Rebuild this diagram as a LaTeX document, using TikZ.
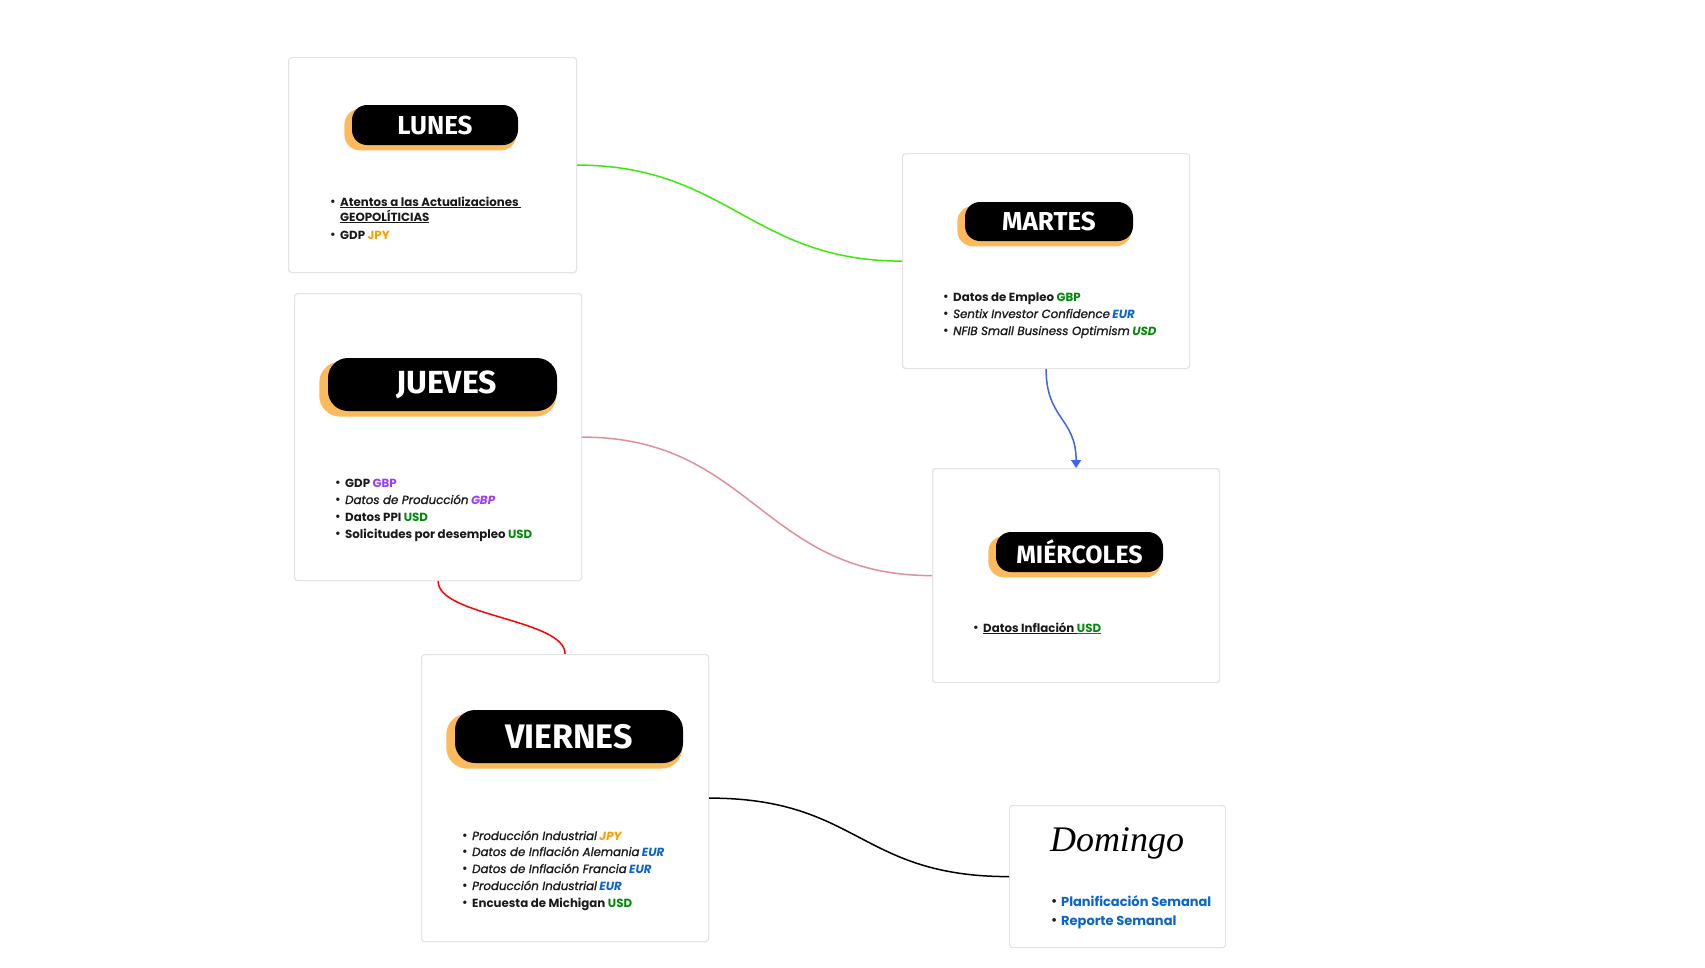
\documentclass[tikz,border=0pt]{standalone}
\usepackage{fontspec}
\setmainfont{Poppins}
\newfontfamily\semiit{Poppins}[ItalicFeatures={FakeBold=1.3}]
\newfontfamily\headfont{Fira Sans}
\newfontfamily\domfont{Liberation Serif}
\usetikzlibrary{arrows.meta,shadows}
\definecolor{cgreen}{HTML}{008A0A}
\definecolor{cblue}{HTML}{0B63CE}
\definecolor{corange}{HTML}{FF9D00}
\definecolor{cpurple}{HTML}{9B3BFF}
\definecolor{pillorange}{HTML}{FDBA5C}
\definecolor{boxgray}{HTML}{E3E3E3}
\definecolor{linkgreen}{HTML}{3BEA0A}
\definecolor{linkpink}{HTML}{E0909A}
\definecolor{linkblue}{HTML}{3D63F2}
\definecolor{txt}{HTML}{1A1A1A}
\newcommand\bul{\makebox[10pt][l]{\raisebox{0.3pt}{\scalebox{0.95}{•}}}}
\newcommand\nobul{\hspace*{10pt}}
\newcommand\ita[1]{{\semiit\mdseries\itshape #1}}
\begin{document}
\begin{tikzpicture}[x=1pt,y=-1pt,
  card/.style={draw=boxgray, line width=1.2pt, rounded corners=3pt, fill=white, anchor=north west, inner sep=0pt},
  pill/.style={fill=black, rounded corners=15pt, text=white, inner sep=0pt,
    general shadow={fill=pillorange, shadow xshift=-4.5pt, shadow yshift=-4.5pt, shadow scale=1.035}},
  li/.style={anchor=base west, inner sep=0pt, text=txt, font=\fontsize{11.8}{14}\selectfont\bfseries},
  link/.style={line width=1.5pt},
]
\useasboundingbox[fill=white] (0,0) rectangle (1705,967);

% cards
\node[card, minimum width=288, minimum height=215] (lunes) at (288,57) {};
\node[card, minimum width=287, minimum height=215] (martes) at (902,153) {};
\node[card, minimum width=287, minimum height=287] (jueves) at (294,293) {};
\node[card, minimum width=287, minimum height=214] (miercoles) at (932,468) {};
\node[card, minimum width=287, minimum height=287] (viernes) at (421,654) {};
\node[card, minimum width=216, minimum height=142] (domingo) at (1009,805) {};

% connectors
\draw[link, linkgreen] (lunes.east) .. controls +(150,0) and +(-150,0) .. (martes.west);
\draw[link, linkpink] (jueves.east) .. controls +(170,0) and +(-170,0) .. (miercoles.west);
\draw[link, red] (jueves.south) .. controls +(0,35) and +(0,-35) .. (viernes.north);
\draw[link, black] (viernes.east) .. controls +(150,0) and +(-150,0) .. (domingo.west);
\draw[link, linkblue, -{Triangle[width=10pt,length=8pt]}] (martes.south) .. controls +(0,50) and +(0,-50) .. (miercoles.north);

% pills
\node[pill, minimum width=166, minimum height=40, font=\headfont\bfseries\fontsize{26}{30}\selectfont] (plunes) at (435,125) {LUNES};
\node[pill, minimum width=168, minimum height=39, font=\headfont\bfseries\fontsize{26}{30}\selectfont] (pmartes) at (1049,221.5) {MARTES};
\node[pill, minimum width=229, minimum height=53, rounded corners=20pt, font=\headfont\bfseries\fontsize{32}{36}\selectfont] (pjueves) at (442.5,384.5) {\hspace*{8pt}JUEVES};
\node[pill, minimum width=167, minimum height=40, font=\headfont\bfseries\fontsize{25}{30}\selectfont] (pmier) at (1079.5,552) {MIÉRCOLES};
\node[pill, minimum width=228, minimum height=53, rounded corners=20pt, font=\headfont\bfseries\fontsize{34}{38}\selectfont] (pviernes) at (569,736.5) {VIERNES};

% LUNES list
\node[li] (l1) at (330,206) {\bul\underline{Atentos a las Actualizaciones\ }};
\node[li] (l2) at (330,221) {\nobul\underline{GEOPOLÍTICIAS}};
\node[li] (l3) at (330,239) {\bul GDP \textcolor{corange}{JPY}};

% MARTES list
\node[li] (m1) at (943,301) {\bul Datos de Empleo \textcolor{cgreen}{GBP}};
\node[li] (m2) at (943,318) {\bul\ita{Sentix Investor Confidence} \textcolor{cblue}{\itshape EUR}};
\node[li] (m3) at (943,335) {\bul\ita{NFIB Small Business Optimism} \textcolor{cgreen}{\itshape USD}};

% JUEVES list
\node[li] (j1) at (335,487) {\bul GDP \textcolor{cpurple}{GBP}};
\node[li] (j2) at (335,504) {\bul\ita{Datos de Producción} \textcolor{cpurple}{\itshape GBP}};
\node[li] (j3) at (335,521) {\bul Datos PPI \textcolor{cgreen}{USD}};
\node[li] (j4) at (335,538) {\bul Solicitudes por desempleo \textcolor{cgreen}{USD}};

% MIERCOLES list
\node[li] (w1) at (973,632) {\bul\underline{Datos Inflación }\textcolor{cgreen}{\underline{USD}}};

% VIERNES list
\node[li] (v1) at (462,840) {\bul\ita{Producción Industrial} \textcolor{corange}{\itshape JPY}};
\node[li] (v2) at (462,856) {\bul\ita{Datos de Inflación Alemania} \textcolor{cblue}{\itshape EUR}};
\node[li] (v3) at (462,873) {\bul\ita{Datos de Inflación Francia} \textcolor{cblue}{\itshape EUR}};
\node[li] (v4) at (462,890) {\bul\ita{Producción Industrial} \textcolor{cblue}{\itshape EUR}};
\node[li] (v5) at (462,907) {\bul Encuesta de Michigan \textcolor{cgreen}{USD}};

% DOMINGO
\node[inner sep=0pt, font=\domfont\itshape\fontsize{36}{40}\selectfont] (dtitle) at (1117,843) {Domingo};
\node[li, font=\fontsize{13}{15}\selectfont\bfseries, text=cblue] (d1) at (1051,906) {\textcolor{txt}{\bul}Planificación Semanal};
\node[li, font=\fontsize{13}{15}\selectfont\bfseries, text=cblue] (d2) at (1051,925) {\textcolor{txt}{\bul}Reporte Semanal};
\end{tikzpicture}
\end{document}
